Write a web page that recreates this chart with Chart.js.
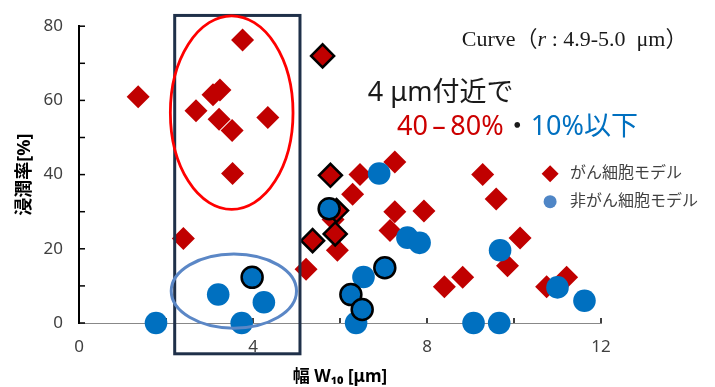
<!DOCTYPE html>
<html>
<head>
<meta charset="utf-8">
<script src="https://cdn.jsdelivr.net/npm/chart.js@4.4.0/dist/chart.umd.min.js"></script>
<style>
  html, body { margin: 0; padding: 0; background: #fff; }
  #wrap { width: 715px; height: 387px; position: relative; }
</style>
</head>
<body>
<div id="wrap"><canvas id="chart"></canvas></div>
<script>
(function () {
  'use strict';

  // width W10 [um], invasion rate [%]
  var cancerPoints = [
    [1.36, 61.0], [2.40, 22.8], [2.69, 57.2], [3.08, 61.5], [3.24, 62.8],
    [3.22, 54.9], [3.52, 51.9], [3.53, 40.3], [3.76, 76.3], [4.34, 55.4],
    [5.22, 14.5], [5.94, 19.6], [5.84, 27.9], [6.29, 34.7], [6.46, 40.0],
    [7.26, 43.4], [7.26, 30.0], [7.15, 24.9], [7.93, 30.2], [8.40, 9.8],
    [8.82, 12.3], [9.28, 40.0], [9.59, 33.4], [9.85, 15.4], [10.14, 22.9],
    [10.75, 9.8], [11.21, 12.3]
  ];
  var cancerOutlined = [
    [5.60, 72.0], [5.78, 39.8], [5.92, 30.3], [5.89, 24.0], [5.37, 22.2]
  ];
  var normalPoints = [
    [1.77, 0], [3.20, 7.7], [3.74, 0], [4.25, 5.6], [6.37, 0],
    [6.54, 12.4], [6.90, 40.3], [7.55, 23.0], [7.83, 21.6], [9.07, 0],
    [9.66, 0], [9.68, 19.6], [11.00, 9.6], [11.62, 6.0]
  ];
  var normalOutlined = [
    [3.98, 12.3], [5.75, 30.8], [6.25, 7.65], [6.51, 3.65], [7.03, 14.9]
  ];

  var X_TICK_LABELS = [0, 4, 8, 12];
  var Y_TICK_LABELS = [0, 20, 40, 60, 80];
  var LEGEND_LABELS = ['がん細胞モデル', '非がん細胞モデル'];

  // highlight box and ellipses, in data units
  var boxRange = { x0: 2.2, x1: 5.08, y0: -8.3, y1: 82.9 };
  var redEllipse = { cx: 3.51, cy: 56.7, rx: 1.41, ry: 26.1 };
  var blueEllipse = { cx: 3.56, cy: 8.6, rx: 1.44, ry: 10.0 };

  var RED = '#c00000';
  var BLUE = '#0070c0';
  var SANS = "'Noto Sans', 'Noto Sans CJK JP', sans-serif";

  function toXY(arr) {
    return arr.map(function (p) { return { x: p[0], y: p[1] }; });
  }

  var overlay = {
    id: 'overlay',
    beforeDatasetsDraw: function (chart) {
      var ctx = chart.ctx, x = chart.scales.x, y = chart.scales.y;
      ctx.save();
      ctx.strokeStyle = '#000';
      ctx.lineWidth = 1.5;
      y.ticks.forEach(function (t) {
        var p = y.getPixelForValue(t.value);
        ctx.beginPath(); ctx.moveTo(y.right, p); ctx.lineTo(y.right + 6, p); ctx.stroke();
      });
      x.ticks.forEach(function (t) {
        var p = x.getPixelForValue(t.value);
        ctx.beginPath(); ctx.moveTo(p, x.top); ctx.lineTo(p, x.top - 5); ctx.stroke();
      });
      ctx.restore();
    },
    afterDatasetsDraw: function (chart) {
      var ctx = chart.ctx, x = chart.scales.x, y = chart.scales.y;
      function X(v) { return x.getPixelForValue(v); }
      function Y(v) { return y.getPixelForValue(v); }
      function ellipse(e, color, w) {
        var cx = X(e.cx), cy = Y(e.cy);
        var rx = X(e.cx + e.rx) - cx, ry = cy - Y(e.cy + e.ry);
        ctx.beginPath();
        ctx.ellipse(cx, cy, rx, ry, 0, 0, Math.PI * 2);
        ctx.strokeStyle = color; ctx.lineWidth = w; ctx.stroke();
      }
      ctx.save();

      ctx.strokeStyle = '#1f3049';
      ctx.lineWidth = 3;
      ctx.strokeRect(X(boxRange.x0), Y(boxRange.y1), X(boxRange.x1) - X(boxRange.x0), Y(boxRange.y0) - Y(boxRange.y1));
      ellipse(redEllipse, '#ff0000', 2.8);
      ellipse(blueEllipse, '#5b87c6', 3);

      // Curve (r : 4.9-5.0 um)
      ctx.textBaseline = 'alphabetic';
      ctx.textAlign = 'left';
      ctx.fillStyle = '#1a1a1a';
      var cx0 = X(8.8), cy0 = Y(74.6);
      var serif = "'Liberation Serif', 'Noto Sans CJK JP', serif";
      ctx.font = '22px ' + serif;
      ctx.fillText('Curve（', cx0, cy0);
      cx0 += ctx.measureText('Curve（').width;
      ctx.font = 'italic 22px ' + serif;
      ctx.fillText('r', cx0, cy0);
      cx0 += ctx.measureText('r').width;
      ctx.font = '22px ' + serif;
      ctx.fillText(' : 4.9-5.0  μm）', cx0, cy0);

      ctx.font = '27px ' + SANS;
      ctx.fillStyle = '#1a1a1a';
      ctx.fillText('4 μm付近で', X(6.64), Y(59.9));

      var parts = [['40\u2009–\u200980%', '#cc0000'], ['・', '#1a1a1a'], ['10%以下', BLUE]];
      var lx = X(7.31), ly = Y(50.6);
      parts.forEach(function (p) {
        ctx.fillStyle = p[1];
        ctx.fillText(p[0], lx, ly);
        lx += ctx.measureText(p[0]).width;
      });

      // legend
      var mx = X(10.83), tx = X(11.29);
      var ly1 = Y(40.2), ly2 = Y(32.7);
      ctx.fillStyle = RED;
      ctx.beginPath();
      ctx.moveTo(mx - 8.5, ly1); ctx.lineTo(mx, ly1 - 8.5); ctx.lineTo(mx + 8.5, ly1); ctx.lineTo(mx, ly1 + 8.5);
      ctx.closePath(); ctx.fill();
      ctx.fillStyle = '#4f86c6';
      ctx.beginPath(); ctx.arc(mx, ly2, 6.5, 0, Math.PI * 2); ctx.fill();
      ctx.fillStyle = '#404040';
      ctx.font = '16px ' + SANS;
      ctx.textBaseline = 'middle';
      ctx.fillText(LEGEND_LABELS[0], tx, ly1);
      ctx.fillText(LEGEND_LABELS[1], tx, ly2);

      ctx.restore();
    }
  };

  new Chart(document.getElementById('chart'), {
    type: 'scatter',
    data: {
      datasets: [
        { label: LEGEND_LABELS[1], data: toXY(normalOutlined), order: 1, pointStyle: 'circle', pointRadius: 10.5,
          backgroundColor: BLUE, borderColor: '#000', borderWidth: 2.5, clip: false },
        { label: LEGEND_LABELS[1], data: toXY(normalPoints), order: 2, pointStyle: 'circle', pointRadius: 11.3,
          backgroundColor: BLUE, borderColor: BLUE, borderWidth: 0, clip: false },
        { label: LEGEND_LABELS[0], data: toXY(cancerOutlined), order: 3, pointStyle: 'rectRot', pointRadius: 11.5,
          backgroundColor: RED, borderColor: '#000', borderWidth: 2.5, clip: false },
        { label: LEGEND_LABELS[0], data: toXY(cancerPoints), order: 4, pointStyle: 'rectRot', pointRadius: 11.5,
          backgroundColor: RED, borderColor: RED, borderWidth: 0, clip: false }
      ]
    },
    options: {
      responsive: true,
      maintainAspectRatio: false,
      animation: false,
      layout: { padding: { left: 0, right: 114, top: 23, bottom: 0 } },
      plugins: { legend: { display: false }, tooltip: { enabled: false } },
      scales: {
        x: {
          type: 'linear', min: 0, max: 12,
          afterFit: function (s) { s.height = 64; },
          ticks: {
            stepSize: 2, autoSkip: false, maxRotation: 0, padding: 14, color: '#404040',
            font: { size: 17, family: SANS },
            callback: function (v) { return X_TICK_LABELS.indexOf(v) >= 0 ? String(v) : ''; }
          },
          grid: { display: true, drawOnChartArea: false, drawTicks: false },
          border: { display: true, color: '#888', width: 1 },
          title: { display: true, text: '幅 W₁₀ [μm]', color: '#000', padding: { top: 0, bottom: 0 },
            font: { size: 17, weight: 'bold', family: SANS } }
        },
        y: {
          min: 0, max: 80,
          afterFit: function (s) { s.width = 79; },
          ticks: {
            stepSize: 10, autoSkip: false, padding: 16, color: '#404040',
            font: { size: 17, family: SANS },
            callback: function (v) { return Y_TICK_LABELS.indexOf(v) >= 0 ? String(v) : ''; }
          },
          grid: { display: true, drawOnChartArea: false, drawTicks: false },
          border: { display: true, color: '#000', width: 2 },
          title: { display: true, text: '浸潤率[%]', color: '#000', padding: { top: 14, bottom: 0 },
            font: { size: 18, weight: 'bold', family: SANS } }
        }
      }
    },
    plugins: [overlay]
  });
})();
</script>
</body>
</html>
